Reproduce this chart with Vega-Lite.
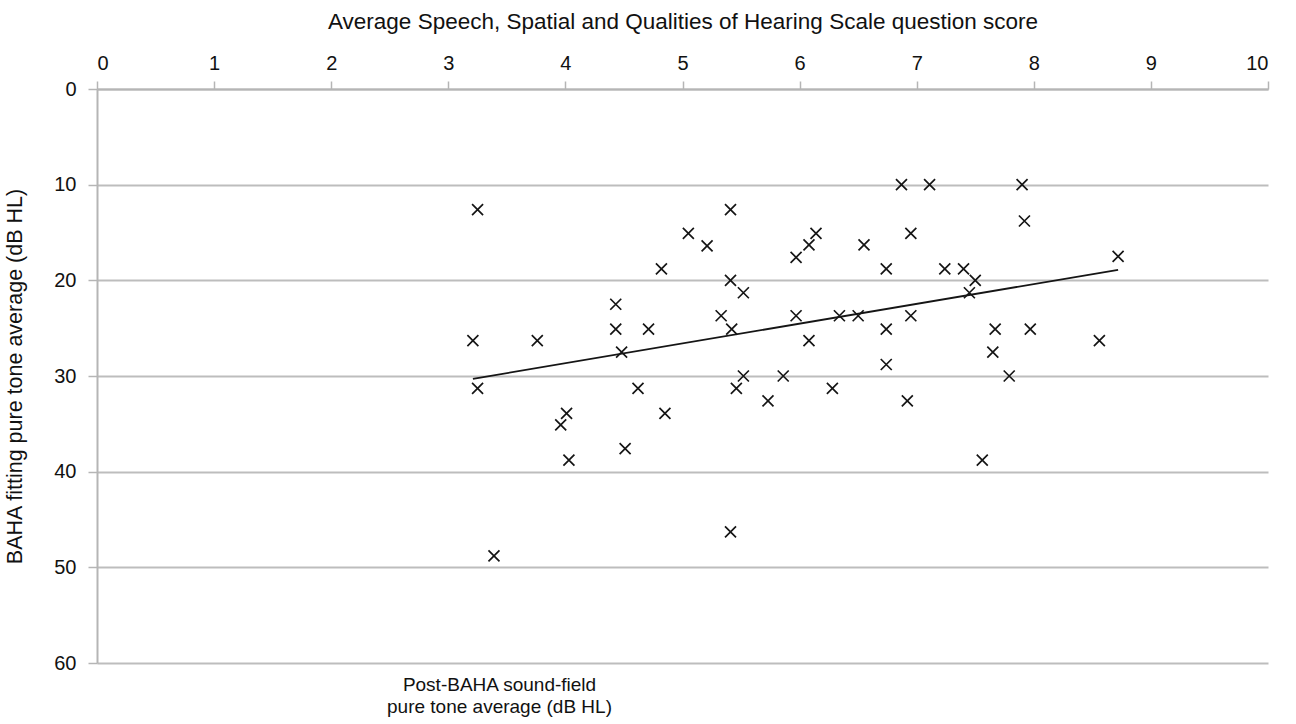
{
  "$schema": "https://vega.github.io/schema/vega-lite/v6.json",
  "width": 1171,
  "height": 574,
  "autosize": {"type": "none"},
  "padding": {"left": 97, "top": 89, "right": 28, "bottom": 61},
  "background": "white",
  "config": {
    "view": {"stroke": null},
    "font": "Liberation Sans",
    "axis": {
      "labelFont": "Liberation Sans",
      "titleFont": "Liberation Sans",
      "labelFontSize": 20,
      "labelColor": "#111111",
      "titleFontSize": 21.5,
      "titleFontWeight": "normal",
      "titleColor": "#111111",
      "domainColor": "#b5b5b5",
      "domainWidth": 2,
      "tickColor": "#b5b5b5",
      "tickWidth": 1.5,
      "tickSize": 8,
      "gridColor": "#bdbdbd",
      "gridWidth": 2
    }
  },
  "datasets": {
    "points": [
      {"score": 3.25, "pta": 12.6}, {"score": 5.41, "pta": 12.6}, {"score": 5.05, "pta": 15.1},
      {"score": 5.21, "pta": 16.4}, {"score": 5.97, "pta": 17.6}, {"score": 6.08, "pta": 16.3},
      {"score": 6.14, "pta": 15.1}, {"score": 4.82, "pta": 18.8}, {"score": 5.41, "pta": 20.0},
      {"score": 5.52, "pta": 21.3}, {"score": 4.43, "pta": 22.5}, {"score": 4.43, "pta": 25.1},
      {"score": 4.71, "pta": 25.1}, {"score": 5.33, "pta": 23.7}, {"score": 5.42, "pta": 25.1},
      {"score": 5.97, "pta": 23.7}, {"score": 6.34, "pta": 23.7}, {"score": 6.08, "pta": 26.3},
      {"score": 3.21, "pta": 26.3}, {"score": 3.76, "pta": 26.3}, {"score": 4.48, "pta": 27.5},
      {"score": 5.52, "pta": 30.0}, {"score": 5.86, "pta": 30.0}, {"score": 3.25, "pta": 31.3},
      {"score": 4.62, "pta": 31.3}, {"score": 5.46, "pta": 31.3}, {"score": 5.73, "pta": 32.6},
      {"score": 6.28, "pta": 31.3}, {"score": 4.01, "pta": 33.9}, {"score": 3.96, "pta": 35.1},
      {"score": 4.85, "pta": 33.9}, {"score": 4.51, "pta": 37.6}, {"score": 4.03, "pta": 38.8},
      {"score": 5.41, "pta": 46.3}, {"score": 3.39, "pta": 48.8}, {"score": 6.87, "pta": 10.0},
      {"score": 7.11, "pta": 10.0}, {"score": 7.90, "pta": 10.0}, {"score": 7.92, "pta": 13.8},
      {"score": 6.95, "pta": 15.1}, {"score": 6.55, "pta": 16.3}, {"score": 6.74, "pta": 18.8},
      {"score": 7.24, "pta": 18.8}, {"score": 7.40, "pta": 18.8}, {"score": 7.50, "pta": 20.0},
      {"score": 7.45, "pta": 21.3}, {"score": 8.72, "pta": 17.5}, {"score": 6.50, "pta": 23.7},
      {"score": 6.95, "pta": 23.7}, {"score": 6.74, "pta": 25.1}, {"score": 7.67, "pta": 25.1},
      {"score": 7.97, "pta": 25.1}, {"score": 8.56, "pta": 26.3}, {"score": 7.65, "pta": 27.5},
      {"score": 6.74, "pta": 28.8}, {"score": 7.79, "pta": 30.0}, {"score": 6.92, "pta": 32.6},
      {"score": 7.56, "pta": 38.8}
    ],
    "trend": [
      {"score": 3.21, "pta": 30.3},
      {"score": 8.72, "pta": 18.9}
    ]
  },
  "layer": [
    {
      "data": {"name": "points"},
      "mark": {
        "type": "point",
        "shape": "M-1,-1L1,1M1,-1L-1,1",
        "size": 121,
        "filled": false,
        "stroke": "#151515",
        "strokeWidth": 1.7,
        "opacity": 1
      },
      "encoding": {
        "x": {
          "field": "score",
          "type": "quantitative",
          "scale": {"domain": [0, 10], "nice": false, "zero": false},
          "axis": {
            "orient": "top",
            "values": [0, 1, 2, 3, 4, 5, 6, 7, 8, 9, 10],
            "grid": false,
            "labelPadding": 8,
            "title": "Average Speech, Spatial and Qualities of Hearing Scale question score",
            "titleFontSize": 22.5,
            "titlePadding": 20
          }
        },
        "y": {
          "field": "pta",
          "type": "quantitative",
          "scale": {"domain": [0, 60], "reverse": true, "nice": false},
          "axis": {
            "values": [0, 10, 20, 30, 40, 50, 60],
            "grid": true,
            "tickSize": 9,
            "labelPadding": 12,
            "title": "BAHA fitting pure tone average (dB HL)",
            "titlePadding": 27
          }
        }
      }
    },
    {
      "data": {"name": "trend"},
      "mark": {"type": "line", "color": "#151515", "strokeWidth": 1.8},
      "encoding": {
        "x": {
          "field": "score",
          "type": "quantitative",
          "scale": {"domain": [0, 10], "nice": false, "zero": false},
          "axis": {
            "orient": "bottom",
            "labels": false,
            "ticks": false,
            "domain": false,
            "grid": false,
            "title": ["Post-BAHA sound-field", "pure tone average (dB HL)"],
            "titleFontSize": 19,
            "titleX": 402,
            "titleY": 12,
            "titleAlign": "center",
            "titleAnchor": null,
            "titleBaseline": "top",
            "titleLineHeight": 22
          }
        },
        "y": {
          "field": "pta",
          "type": "quantitative",
          "scale": {"domain": [0, 60], "reverse": true, "nice": false}
        }
      }
    }
  ],
  "resolve": {"axis": {"x": "independent"}}
}
